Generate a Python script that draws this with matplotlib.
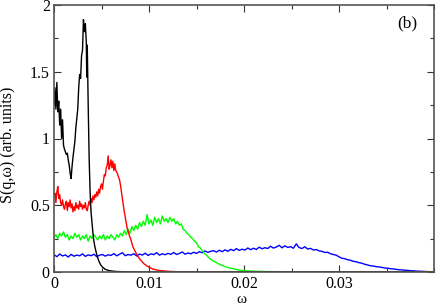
import matplotlib
matplotlib.use("Agg")
import matplotlib.pyplot as plt
from matplotlib.ticker import MultipleLocator, FixedLocator, FixedFormatter

# ---------------- data ----------------
black_x = [0.0, 0.0001, 0.0002, 0.0003, 0.0004, 0.0005, 0.0006, 0.0007, 0.0008, 0.0009,
           0.0010, 0.0011, 0.0012, 0.0013, 0.0014, 0.0015, 0.0016, 0.0017, 0.0018, 0.0019,
           0.0020, 0.0021, 0.0022, 0.0023, 0.0024, 0.0025, 0.0026, 0.0027, 0.0028, 0.0029,
           0.0030, 0.0031, 0.0032, 0.0033, 0.0034, 0.00345, 0.0035, 0.0036, 0.0037, 0.0038,
           0.0039, 0.0040, 0.0041, 0.0042, 0.0043, 0.0045, 0.0047, 0.0049, 0.0051, 0.0054,
           0.0058, 0.0065, 0.0075, 0.0090, 0.0110, 0.0400]
black_y = [1.25, 1.38, 1.22, 1.42, 1.20, 1.28, 1.10, 1.22, 1.00, 1.14,
           0.95, 0.92, 0.90, 0.88, 0.89, 0.84, 0.80, 0.74, 0.70, 0.79,
           0.86, 0.92, 0.98, 1.08, 1.15, 1.22, 1.38, 1.48, 1.45, 1.62,
           1.66, 1.89, 1.80, 1.86, 1.72, 1.46, 1.70, 1.25, 0.85, 0.60,
           0.45, 0.37, 0.29, 0.23, 0.19, 0.13, 0.085, 0.055, 0.037, 0.020,
           0.010, 0.004, 0.0015, 0.0005, 0.0, 0.0]

red_x = [0.0, 0.0001, 0.0002, 0.0003, 0.0004, 0.0005, 0.0006, 0.0007, 0.0008, 0.0009,
         0.0010, 0.0011, 0.0012, 0.0013, 0.0014, 0.0015, 0.0016, 0.0017, 0.0018, 0.0019,
         0.0020, 0.0021, 0.0022, 0.0023, 0.0024, 0.0025, 0.0026, 0.0027, 0.0028, 0.0029,
         0.0030, 0.0031, 0.0032, 0.0033, 0.0034, 0.0035, 0.0036, 0.0037, 0.0038, 0.0039,
         0.0040, 0.0041, 0.0042, 0.0043, 0.0044, 0.0045, 0.0046, 0.0047, 0.0048, 0.0049,
         0.0050, 0.0051, 0.0052, 0.0053, 0.0054, 0.0055, 0.0056, 0.0057, 0.0058, 0.0059,
         0.0060, 0.0061, 0.0062, 0.0063, 0.0064, 0.0065, 0.0066, 0.0067, 0.0068, 0.0069,
         0.0070, 0.0071, 0.0072, 0.0073, 0.0074, 0.0075,
         0.0077, 0.0079, 0.0081, 0.0083, 0.0085, 0.0088, 0.0091, 0.0095, 0.0099, 0.0104,
         0.0110, 0.0120, 0.0130, 0.0150, 0.0180, 0.0220, 0.0400]
red_y = [0.57, 0.59, 0.52, 0.60, 0.64, 0.55, 0.58, 0.52, 0.50, 0.54,
         0.49, 0.47, 0.51, 0.53, 0.46, 0.52, 0.49, 0.54, 0.48, 0.51,
         0.45, 0.49, 0.46, 0.52, 0.48, 0.50, 0.47, 0.53, 0.49, 0.51,
         0.47, 0.50, 0.48, 0.52, 0.47, 0.46, 0.50, 0.53, 0.50, 0.55,
         0.52, 0.57, 0.54, 0.58, 0.56, 0.60, 0.57, 0.62, 0.59, 0.64,
         0.66, 0.62, 0.68, 0.73, 0.72, 0.78, 0.80, 0.87, 0.77, 0.80,
         0.84, 0.78, 0.83, 0.76, 0.81, 0.76, 0.75, 0.73, 0.71, 0.69,
         0.65, 0.60, 0.55, 0.50, 0.45, 0.41,
         0.33, 0.28, 0.24, 0.19, 0.16, 0.12, 0.09, 0.06, 0.04, 0.022,
         0.012, 0.005, 0.002, 0.0007, 0.0002, 0.0, 0.0]

green_x = [0.0, 0.0002, 0.0004, 0.0006, 0.0008, 0.0010, 0.0012, 0.0014, 0.0016, 0.0018,
           0.0020, 0.0022, 0.0024, 0.0026, 0.0028, 0.0030, 0.0032, 0.0034, 0.0036, 0.0038,
           0.0040, 0.0042, 0.0044, 0.0046, 0.0048, 0.0050, 0.0052, 0.0054, 0.0056, 0.0058,
           0.0060, 0.0062, 0.0064, 0.0066, 0.0068, 0.0070, 0.0072, 0.0074, 0.0076, 0.0078,
           0.0080, 0.0082, 0.0084, 0.0086, 0.0088, 0.0090, 0.0092, 0.0094, 0.0096, 0.0098,
           0.0100, 0.0102, 0.0104, 0.0106, 0.0108, 0.0110, 0.0112, 0.0114, 0.0116, 0.0118,
           0.0120, 0.0122, 0.0124, 0.0126, 0.0128, 0.0130, 0.0132, 0.0134, 0.0136, 0.0138,
           0.0140, 0.0142, 0.0144, 0.0146, 0.0148, 0.0150, 0.0152, 0.0154, 0.0156, 0.0158,
           0.0160, 0.0162, 0.0164, 0.0166, 0.0168, 0.0170, 0.0173, 0.0176, 0.0180, 0.0185,
           0.0190, 0.0195, 0.0200, 0.0210, 0.0220, 0.0240, 0.0260, 0.0280, 0.0300, 0.0400]
green_y = [0.26, 0.28, 0.25, 0.29, 0.27, 0.30, 0.26, 0.28, 0.24, 0.27,
           0.25, 0.29, 0.26, 0.28, 0.24, 0.27, 0.25, 0.28, 0.23, 0.27,
           0.25, 0.28, 0.26, 0.24, 0.27, 0.25, 0.28, 0.24, 0.27, 0.25,
           0.28, 0.26, 0.24, 0.28, 0.26, 0.29, 0.27, 0.31, 0.28, 0.32,
           0.29, 0.34, 0.31, 0.35, 0.32, 0.37, 0.34, 0.38, 0.35, 0.43,
           0.36, 0.39, 0.35, 0.41, 0.37, 0.40, 0.36, 0.42, 0.38, 0.40,
           0.37, 0.41, 0.38, 0.40, 0.36, 0.38, 0.35, 0.36, 0.32, 0.31,
           0.29, 0.28, 0.26, 0.25, 0.23, 0.22, 0.19, 0.18, 0.16, 0.14,
           0.13, 0.115, 0.10, 0.09, 0.08, 0.075, 0.062, 0.052, 0.040, 0.030,
           0.022, 0.015, 0.010, 0.006, 0.004, 0.002, 0.001, 0.0004, 0.0001, 0.0]

blue_x = [0.0, 0.0003, 0.0006, 0.0009, 0.0012, 0.0015, 0.0018, 0.0021, 0.0024, 0.0027,
          0.0030, 0.0033, 0.0036, 0.0039, 0.0042, 0.0045, 0.0048, 0.0051, 0.0054, 0.0057,
          0.0060, 0.0063, 0.0066, 0.0069, 0.0072, 0.0075, 0.0078, 0.0081, 0.0084, 0.0087,
          0.0090, 0.0093, 0.0096, 0.0099, 0.0102, 0.0105, 0.0108, 0.0111, 0.0114, 0.0117,
          0.0120, 0.0123, 0.0126, 0.0129, 0.0132, 0.0135, 0.0138, 0.0141, 0.0144, 0.0147,
          0.0150, 0.0153, 0.0156, 0.0159, 0.0162, 0.0165, 0.0168, 0.0171, 0.0174, 0.0177,
          0.0180, 0.0183, 0.0186, 0.0189, 0.0192, 0.0195, 0.0198, 0.0201, 0.0204, 0.0207,
          0.0210, 0.0213, 0.0216, 0.0219, 0.0222, 0.0225, 0.0228, 0.0231, 0.0234, 0.0237,
          0.0240, 0.0243, 0.0246, 0.0249, 0.0252, 0.0255, 0.0258, 0.0261, 0.0264, 0.0267,
          0.0270, 0.0273, 0.0276, 0.0279, 0.0282, 0.0285, 0.0288, 0.0291, 0.0294, 0.0297,
          0.0300, 0.0303, 0.0306, 0.0309, 0.0312, 0.0315, 0.0318, 0.0321, 0.0324, 0.0327,
          0.0330, 0.0333, 0.0336, 0.0339, 0.0342, 0.0345, 0.0348, 0.0351, 0.0354, 0.0357,
          0.0360, 0.0363, 0.0366, 0.0369, 0.0372, 0.0375, 0.0378, 0.0381, 0.0384, 0.0387,
          0.0390, 0.0393, 0.0396, 0.0399]
blue_y = [0.130, 0.115, 0.135, 0.120, 0.128, 0.112, 0.132, 0.118, 0.127, 0.121,
          0.136, 0.117, 0.128, 0.122, 0.133, 0.115, 0.126, 0.131, 0.119, 0.129,
          0.124, 0.138, 0.121, 0.133, 0.145, 0.122, 0.131, 0.126, 0.137, 0.120,
          0.134, 0.127, 0.141, 0.124, 0.136, 0.130, 0.145, 0.126, 0.137, 0.129,
          0.140, 0.132, 0.146, 0.131, 0.139, 0.150, 0.133, 0.143, 0.136, 0.148,
          0.139, 0.152, 0.144, 0.158, 0.147, 0.155, 0.160, 0.149, 0.163, 0.152,
          0.166, 0.155, 0.170, 0.160, 0.175, 0.162, 0.171, 0.164, 0.180, 0.167,
          0.178, 0.169, 0.186, 0.174, 0.182, 0.176, 0.193, 0.179, 0.187, 0.200,
          0.181, 0.196, 0.184, 0.190, 0.178, 0.211, 0.183, 0.176, 0.189, 0.172,
          0.177, 0.165, 0.168, 0.158, 0.155, 0.146, 0.148, 0.137, 0.131, 0.126,
          0.114, 0.103, 0.100, 0.092, 0.088, 0.080, 0.077, 0.070, 0.066, 0.058,
          0.053, 0.047, 0.045, 0.040, 0.038, 0.035, 0.030, 0.029, 0.025, 0.023,
          0.020, 0.017, 0.016, 0.013, 0.012, 0.010, 0.009, 0.007, 0.006, 0.005,
          0.004, 0.003, 0.002, 0.002]

x_ticks = [0.0, 0.01, 0.02, 0.03]
x_ticklabels = ["0", "0.01", "0.02", "0.03"]
y_ticks = [0.0, 0.5, 1.0, 1.5, 2.0]
y_ticklabels = ["0", "0.5", "1", "1.5", "2"]

# ---------------- figure ----------------
plt.rcParams['font.family'] = ['Liberation Serif', 'DejaVu Serif']

fig = plt.figure(figsize=(4.36, 3.08), dpi=100)
ax = fig.add_axes([54/436, 36/308, 380/436, 267/308])

ax.plot(blue_x, blue_y, color='#0000ff', lw=1.0)
ax.plot(green_x, green_y, color='#00ff00', lw=1.0)
ax.plot(red_x, red_y, color='#ff0000', lw=1.0)
ax.plot(black_x, black_y, color='#000000', lw=1.0)

ax.set_xlim(0, 0.04)
ax.set_ylim(0, 2)
ax.xaxis.set_major_locator(FixedLocator(x_ticks))
ax.xaxis.set_major_formatter(FixedFormatter(x_ticklabels))
ax.yaxis.set_major_locator(FixedLocator(y_ticks))
ax.yaxis.set_major_formatter(FixedFormatter(y_ticklabels))
ax.xaxis.set_minor_locator(MultipleLocator(0.005))
ax.yaxis.set_minor_locator(MultipleLocator(0.25))

ax.tick_params(which='both', direction='in', top=True, right=True,
               labelsize=11.5, color='#333333', width=0.8)
ax.tick_params(which='major', length=5, pad=3)
ax.tick_params(which='minor', length=3)
for s in ax.spines.values():
    s.set_color('#555555')
    s.set_linewidth(1.2)

ax.set_xlabel('ω', fontsize=11, va='center')
ax.xaxis.set_label_coords(0.493, -0.104)
ax.set_ylabel('S(q,ω) (arb. units)', fontsize=11.5, va='center')
ax.yaxis.set_label_coords(-0.121, 0.476)
ax.text(0.955, 0.93, '(b)', transform=ax.transAxes, fontsize=12.5,
        ha='right', va='center')

fig.savefig('out.png', dpi=100)
